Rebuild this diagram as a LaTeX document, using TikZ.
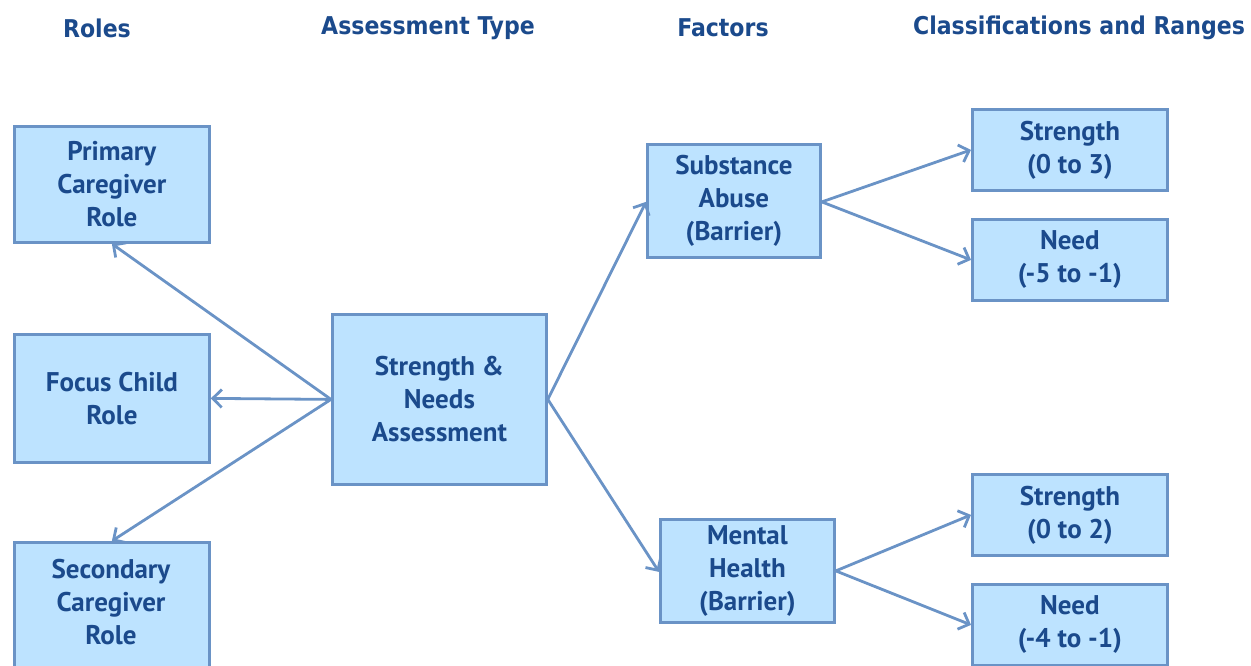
\documentclass[tikz,border=0pt]{standalone}
\usepackage{fontspec}
\setmainfont{PT Sans}
\newfontfamily\hdrfont{DejaVu Sans Condensed}
\usetikzlibrary{arrows.meta}
\definecolor{boxfill}{HTML}{BDE3FF}
\definecolor{boxline}{HTML}{6A93C6}
\definecolor{txtblue}{HTML}{1B4A8C}
\definecolor{arrowc}{HTML}{6A93C6}
\begin{document}
\begin{tikzpicture}[x=1pt,y=-1pt,
  box/.style={draw=boxline, fill=boxfill, line width=2.8pt, anchor=north west, align=center,
    text=txtblue, font=\fontsize{27}{33}\selectfont\bfseries, inner sep=0pt},
  hdr/.style={text=txtblue, font=\hdrfont\fontsize{24.5}{28}\selectfont\bfseries, anchor=center},
  conn/.style={draw=arrowc, line width=2.8pt, -{Straight Barb[length=9pt,width=18pt,line width=2.8pt]}}]
\useasboundingbox (0,0) rectangle (1251,666);
\clip (0,0) rectangle (1251,666);
% headers
\node[hdr] (h1) at (97,28) {Roles};
\node[hdr] (h2) at (428,28) {Assessment Type};
\node[hdr] (h3) at (723,28) {Factors};
\node[hdr] (h4) at (1079,28) {Classifications and Ranges};
% boxes
\node[box, minimum width=195pt, minimum height=116pt] (pc) at (13,125) {Primary\\Caregiver\\Role};
\node[box, minimum width=195pt, minimum height=128pt] (fc) at (13,333) {Focus Child\\Role};
\node[box, minimum width=195pt, minimum height=140pt] (sc) at (13,541) {};
\node[text=txtblue, font=\fontsize{27}{33}\selectfont\bfseries, align=center, anchor=north] (sctext) at (111,556) {Secondary\\Caregiver\\Role};
\node[box, minimum width=214pt, minimum height=170pt] (sna) at (331,313) {Strength \&\\Needs\\Assessment};
\node[box, minimum width=173pt, minimum height=113pt] (sa) at (646,143) {Substance\\Abuse\\(Barrier)};
\node[box, minimum width=174pt, minimum height=103pt] (mh) at (659,518) {Mental\\Health\\(Barrier)};
\node[box, minimum width=195pt, minimum height=81pt] (s1) at (971,108) {Strength\\(0 to 3)};
\node[box, minimum width=195pt, minimum height=81pt] (n1) at (971,218) {Need\\(-5 to -1)};
\node[box, minimum width=195pt, minimum height=81pt] (s2) at (971,473) {Strength\\(0 to 2)};
\node[box, minimum width=195pt, minimum height=81pt] (n2) at (971,583) {Need\\(-4 to -1)};
% connectors
\draw[conn] (sna.west) -- (pc.south);
\draw[conn] (sna.west) -- (fc.east);
\draw[conn] (sna.west) -- (sc.north);
\draw[conn] (sna.east) -- ([yshift=-1pt]sa.west);
\draw[conn] (sna.east) -- ([yshift=-1pt]mh.west);
\draw[conn] ([yshift=-1pt]sa.east) -- (s1.west);
\draw[conn] ([yshift=-1pt]sa.east) -- (n1.west);
\draw[conn] (mh.east) -- (s2.west);
\draw[conn] (mh.east) -- (n2.west);
\end{tikzpicture}
\end{document}
